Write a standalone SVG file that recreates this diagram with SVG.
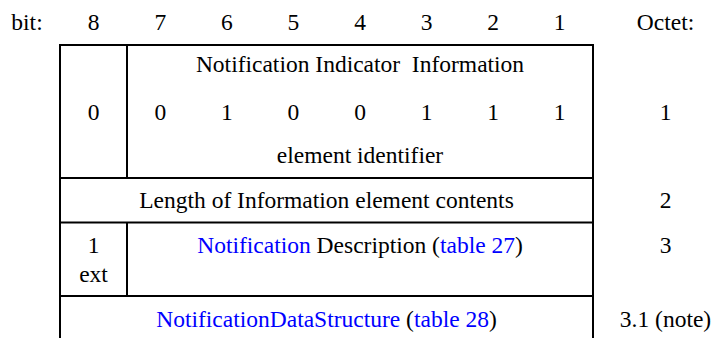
<svg xmlns="http://www.w3.org/2000/svg" width="715" height="338" viewBox="0 0 715 338">
<style>
.t{font-family:"Liberation Serif","DejaVu Serif",serif;font-size:23.5px;fill:#000;text-anchor:middle}
.l{fill:#0000FF}
.ln{stroke:#000;stroke-width:2;fill:none}
</style>
<rect width="715" height="338" fill="#fff"/>
<g class="t" font-family="Liberation Serif, DejaVu Serif, serif" font-size="23.5" text-anchor="middle">
<g id="header">
<text x="27" y="30">bit:</text>
<text x="93.5" y="30">8</text>
<text x="160.3" y="30">7</text>
<text x="226.9" y="30">6</text>
<text x="293.4" y="30">5</text>
<text x="360" y="30">4</text>
<text x="426.6" y="30">3</text>
<text x="493.1" y="30">2</text>
<text x="559.7" y="30">1</text>
<text x="665.5" y="30">Octet:</text>
</g>
<g id="octet1-bit8">
<text x="93.5" y="120">0</text>
</g>
<g id="octet1-id">
<text x="360" y="72" xml:space="preserve">Notification Indicator  Information</text>
<text x="160.3" y="120">0</text>
<text x="226.9" y="120">1</text>
<text x="293.4" y="120">0</text>
<text x="360" y="120">0</text>
<text x="426.6" y="120">1</text>
<text x="493.1" y="120">1</text>
<text x="559.7" y="120">1</text>
<text x="360" y="163">element identifier</text>
</g>
<g id="octet-labels">
<text x="665.5" y="120">1</text>
<text x="665.5" y="208">2</text>
<text x="665.5" y="253">3</text>
<text x="665.5" y="327">3.1 (note)</text>
</g>
<g id="octet2">
<text x="326.5" y="208">Length of Information element contents</text>
</g>
<g id="octet3-ext">
<text x="93.5" y="253">1</text>
<text x="93.5" y="282">ext</text>
</g>
<g id="octet3-desc">
<text x="360" y="253"><tspan class="l">Notification</tspan> Description (<tspan class="l">table 27</tspan>)</text>
</g>
<g id="octet3-1">
<text x="326.5" y="327"><tspan class="l">NotificationDataStructure</tspan> (<tspan class="l">table 28</tspan>)</text>
</g>
</g>
<g id="connectors">
<path class="ln" d="M60,45 H593 M60,178 H593 M60,222.5 H593 M60,296 H593 M60,44 V338 M593,44 V338 M127,45 V178 M127,222.5 V296"/>
</g>
</svg>
